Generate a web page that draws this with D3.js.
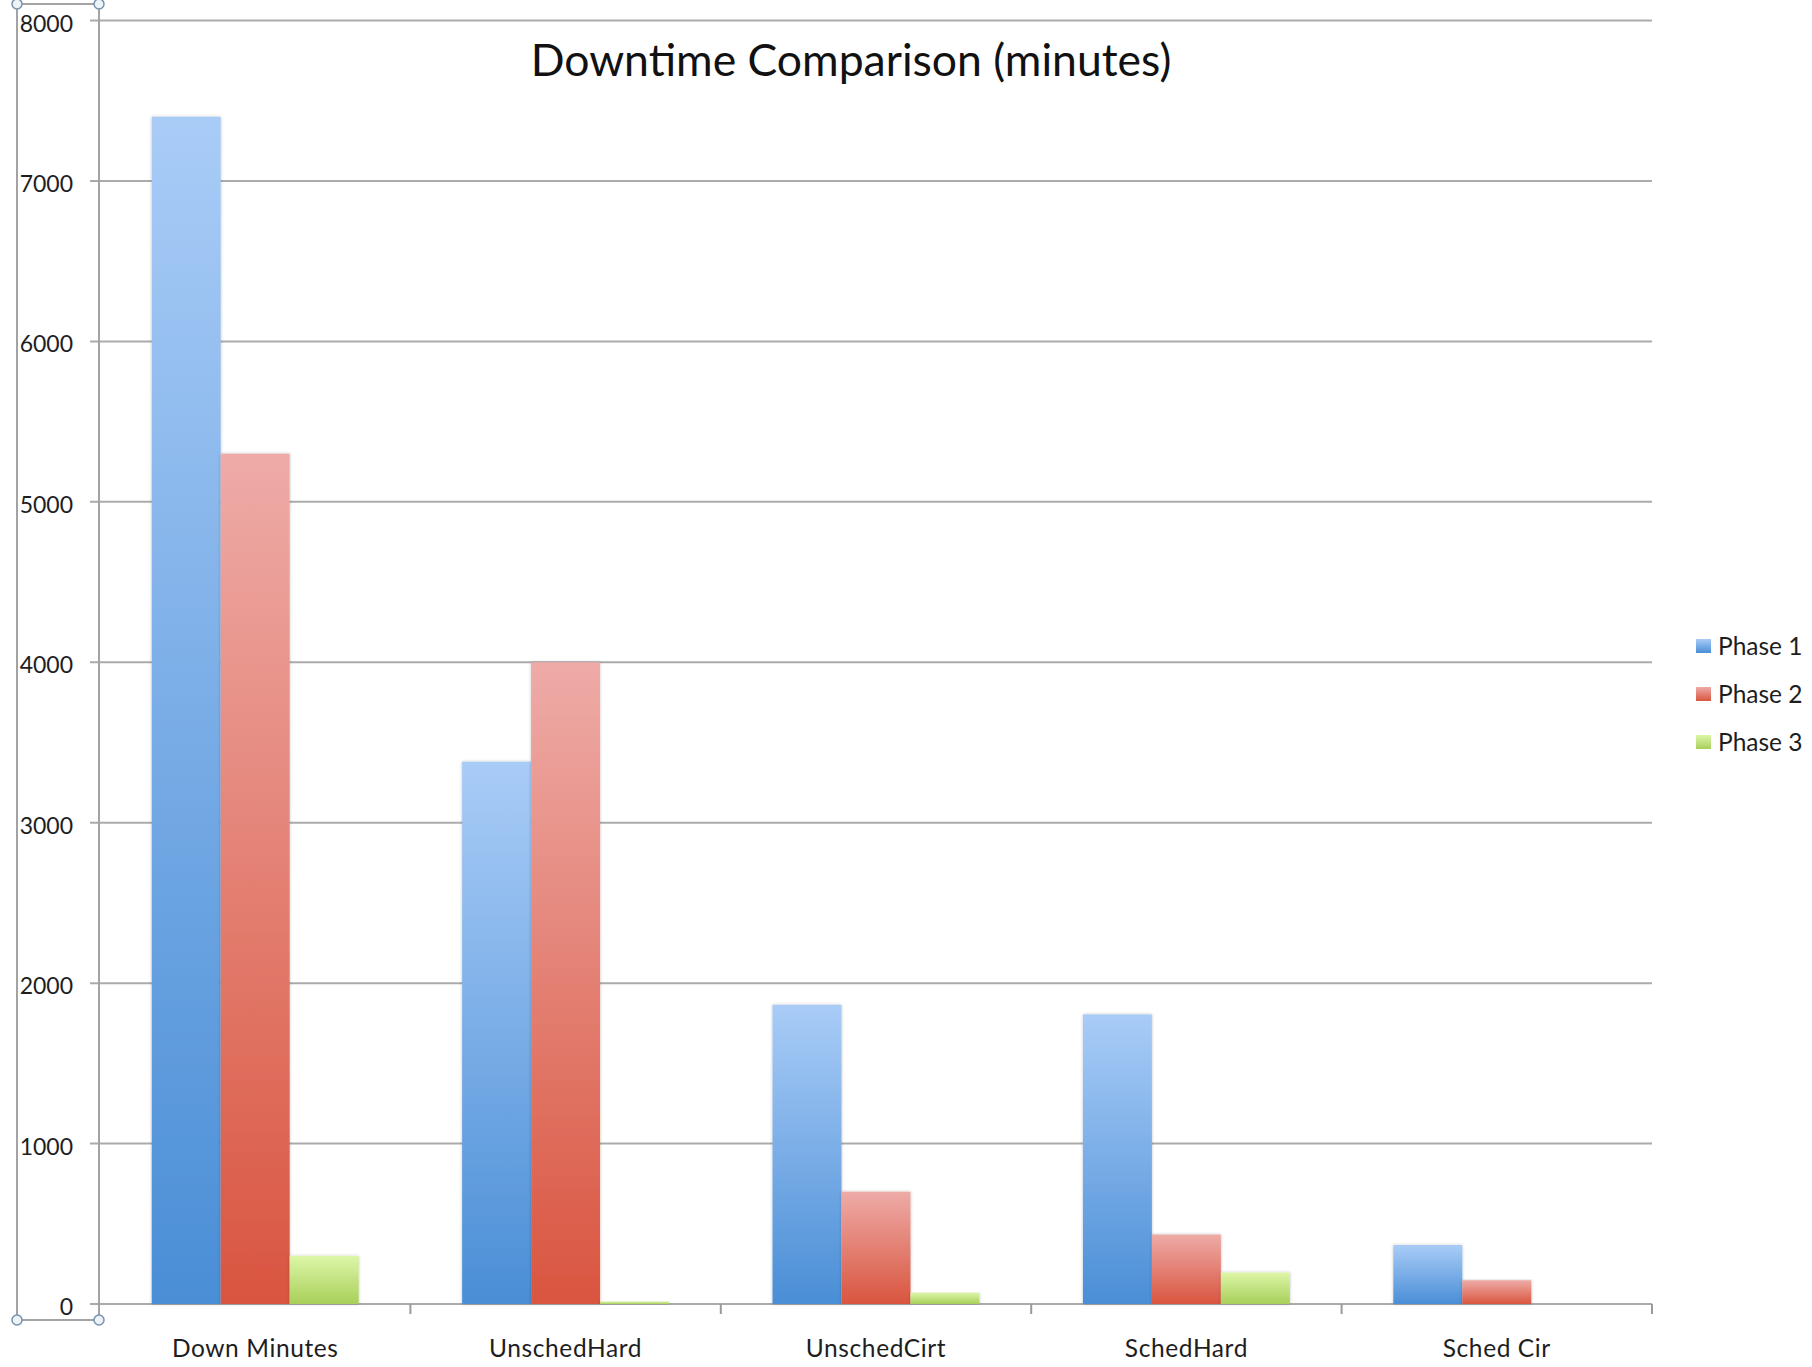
<!DOCTYPE html>
<html>
<head>
<meta charset="utf-8">
<script src="https://cdn.jsdelivr.net/npm/d3@7"></script>
<style>
  html, body { margin: 0; padding: 0; background: #ffffff; }
  svg { display: block; }
  text { font-family: Lato, "Open Sans", sans-serif; }
</style>
</head>
<body>
<svg id="chart" width="1812" height="1367"></svg>
<script>
// ---- data ----
const categories = ["Down Minutes", "UnschedHard", "UnschedCirt", "SchedHard", "Sched Cir"];
const seriesNames = ["Phase 1", "Phase 2", "Phase 3"];
const phase1 = [7400, 3380, 1865, 1805, 368];
const phase2 = [5300, 4000, 700, 433, 148];
const phase3 = [300, 15, 70, 196, 0];
const yTicks = [0, 1000, 2000, 3000, 4000, 5000, 6000, 7000, 8000];
const titleText = "Downtime Comparison (minutes)";

(function () {
const seriesValues = [phase1, phase2, phase3];
const colorsTop = ["#a9ccf7", "#eeaba7", "#ddf6a8"];
const colorsBottom = ["#4a8ed6", "#d9553f", "#a8cf5a"];

const svg = d3.select("#chart");
const defs = svg.append("defs");

seriesNames.forEach((s, i) => {
  const g = defs.append("linearGradient")
    .attr("id", "grad" + i)
    .attr("x1", 0).attr("y1", 0).attr("x2", 0).attr("y2", 1);
  g.append("stop").attr("offset", "0%").attr("stop-color", colorsTop[i]);
  g.append("stop").attr("offset", "100%").attr("stop-color", colorsBottom[i]);
});
const f = defs.append("filter").attr("id", "shadow")
  .attr("x", "-20%").attr("y", "-5%").attr("width", "140%").attr("height", "110%");
f.append("feDropShadow").attr("dx", 0).attr("dy", 0).attr("stdDeviation", 1.5)
  .attr("flood-color", "#000").attr("flood-opacity", 0.25);

// ---- layout ----
const pLeft = 100, pRight = 1652, pTop = 20.5, pBottom = 1304;

const x = d3.scaleBand().domain(categories).range([pLeft, pRight]).paddingInner(0).paddingOuter(0);
const xs = d3.scaleBand().domain(seriesNames).range([0, x.bandwidth()]).paddingInner(0).paddingOuter(0.75);
const y = d3.scaleLinear().domain([0, 8000]).range([pBottom, pTop]);

// gridlines
svg.append("g").selectAll("line").data(yTicks).join("line")
  .attr("x1", pLeft - 10).attr("x2", pRight)
  .attr("y1", d => y(d)).attr("y2", d => y(d))
  .attr("stroke", "#ababab").attr("stroke-width", 2);

// x ticks at category boundaries
const boundaries = categories.map(c => x(c) + x.bandwidth());
svg.append("g").selectAll("line").data(boundaries).join("line")
  .attr("x1", d => d).attr("x2", d => d)
  .attr("y1", y(0)).attr("y2", y(0) + 10)
  .attr("stroke", "#9a9a9a").attr("stroke-width", 2);

// bars
const rows = categories.map((c, ci) => seriesNames.map((s, si) => ({ c, s, si, v: seriesValues[si][ci] })));
svg.append("g").selectAll("g").data(rows).join("g")
  .attr("transform", d => `translate(${x(d[0].c)},0)`)
  .selectAll("rect").data(d => d.filter(e => e.v > 0)).join("rect")
  .attr("x", d => xs(d.s))
  .attr("width", xs.bandwidth())
  .attr("y", d => y(d.v))
  .attr("height", d => y(0) - y(d.v))
  .attr("fill", d => `url(#grad${d.si})`)
  .attr("filter", "url(#shadow)");

// y labels
svg.append("g").selectAll("text").data(yTicks).join("text")
  .attr("x", 73).attr("y", d => y(d) + 11)
  .attr("text-anchor", "end")
  .attr("font-size", 23)
  .attr("fill", "#1e1e1e")
  .text(d => d);

// x labels
svg.append("g").selectAll("text").data(categories).join("text")
  .attr("x", d => x(d) + x.bandwidth() / 2)
  .attr("y", 1357)
  .attr("text-anchor", "middle")
  .attr("font-size", 24.5)
  .attr("letter-spacing", 0.6)
  .attr("fill", "#1e1e1e")
  .text(d => d);

// title
svg.append("text")
  .attr("x", 851).attr("y", 76)
  .attr("text-anchor", "middle")
  .attr("font-size", 44.5)
  .attr("fill", "#111")
  .text(titleText);

// legend
const lg = svg.append("g").selectAll("g").data(seriesNames).join("g")
  .attr("transform", (d, i) => `translate(1696, ${639 + i * 48})`);
lg.append("rect").attr("width", 15).attr("height", 14)
  .attr("fill", (d, i) => `url(#grad${i})`);
lg.append("text").attr("x", 22).attr("y", 16)
  .attr("font-size", 24.5).attr("fill", "#1e1e1e")
  .text(d => d);

// selection box around the value axis
const box = svg.append("g");
const bx0 = 17, bx1 = 99, by0 = 4, by1 = 1320;
box.append("rect").attr("x", bx0).attr("y", by0).attr("width", bx1 - bx0).attr("height", by1 - by0)
  .attr("fill", "none").attr("stroke", "#a3a3a3").attr("stroke-width", 2);
box.selectAll("circle").data([[bx0, by0], [bx1, by0], [bx0, by1], [bx1, by1]]).join("circle")
  .attr("cx", d => d[0]).attr("cy", d => d[1]).attr("r", 5)
  .attr("fill", "#eef3f8").attr("stroke", "#7892ad").attr("stroke-width", 1.5);
})();
</script>
</body>
</html>
